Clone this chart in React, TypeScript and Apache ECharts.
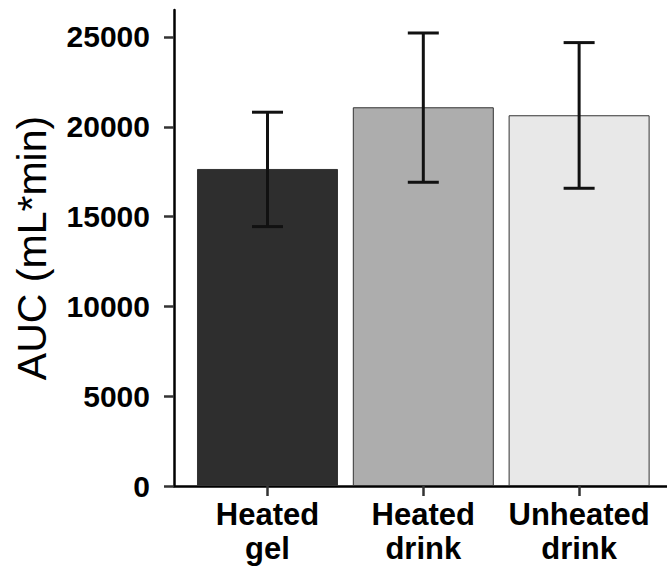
import React, { useEffect, useRef } from "react";
import * as echarts from "echarts";

const categories = ["Heated\ngel", "Heated\ndrink", "Unheated\ndrink"];
const meanValues = [17650, 21085, 20640];
const lowerValues = [14440, 16910, 16575];
const upperValues = [20810, 25220, 24685];
const barColors = ["#2e2e2e", "#adadad", "#e8e8e8"];
const yTicks = [0, 5000, 10000, 15000, 20000, 25000];
const xPositions = [1, 2, 3];

const FONT = "'Liberation Sans', Arial, Helvetica, sans-serif";

export default function App() {
  const ref = useRef<HTMLDivElement>(null);
  useEffect(() => {
    if (!ref.current) return;
    const chart = echarts.init(ref.current, undefined, { renderer: "svg" });
    const option = {
      animation: false,
      backgroundColor: "#ffffff",
      grid: { left: 174, right: 0, top: 10, bottom: 84, containLabel: false },
      xAxis: {
        type: "value",
        min: 0.4,
        max: 3.564,
        splitLine: { show: false },
        axisLine: { show: true, onZero: false, lineStyle: { color: "#000", width: 2.5 } },
        axisTick: { show: true, length: 10, customValues: xPositions, lineStyle: { color: "#333", width: 2.5 } },
        axisLabel: {
          show: true,
          customValues: xPositions,
          margin: 11,
          color: "#000",
          fontFamily: FONT,
          fontWeight: "bold",
          fontSize: 31,
          lineHeight: 34,
          formatter: (v: number) => categories[Math.round(v) - 1] ?? "",
        },
      },
      yAxis: {
        type: "value",
        min: 0,
        max: 26500,
        name: "AUC (mL*min)",
        nameLocation: "middle",
        nameGap: 122,
        nameTextStyle: { fontFamily: FONT, fontSize: 41, color: "#000" },
        splitLine: { show: false },
        axisLine: { show: true, lineStyle: { color: "#000", width: 2.5 } },
        axisTick: { show: true, length: 10, customValues: yTicks, lineStyle: { color: "#333", width: 2.5 } },
        axisLabel: {
          customValues: yTicks,
          margin: 24,
          color: "#000",
          fontFamily: FONT,
          fontWeight: "bold",
          fontSize: 30,
          formatter: (v: number) => String(Math.round(v)),
        },
      },
      series: [
        {
          type: "bar",
          barWidth: 141,
          data: xPositions.map((x, i) => ({
            value: [x, meanValues[i]],
            itemStyle: { color: barColors[i], borderColor: "#333", borderWidth: 1 },
          })),
          z: 2,
        },
        {
          type: "custom",
          z: 5,
          data: xPositions.map((x, i) => [x, lowerValues[i], upperValues[i]]),
          renderItem: (params: any, api: any) => {
            const x = api.value(0);
            const lo = api.coord([x, api.value(1)]);
            const hi = api.coord([x, api.value(2)]);
            const half = 15.5;
            const style = { stroke: "#111", lineWidth: 3 };
            return {
              type: "group",
              children: [
                { type: "line", shape: { x1: lo[0], y1: lo[1], x2: hi[0], y2: hi[1] }, style },
                { type: "line", shape: { x1: hi[0] - half, y1: hi[1], x2: hi[0] + half, y2: hi[1] }, style },
                { type: "line", shape: { x1: lo[0] - half, y1: lo[1], x2: lo[0] + half, y2: lo[1] }, style },
              ],
            };
          },
        },
      ],
    };
    chart.setOption(option as any);
    return () => chart.dispose();
  }, []);
  return (
    <div
      ref={ref}
      style={{ position: "fixed", left: 0, top: 0, width: 667, height: 570, background: "#fff" }}
    />
  );
}
